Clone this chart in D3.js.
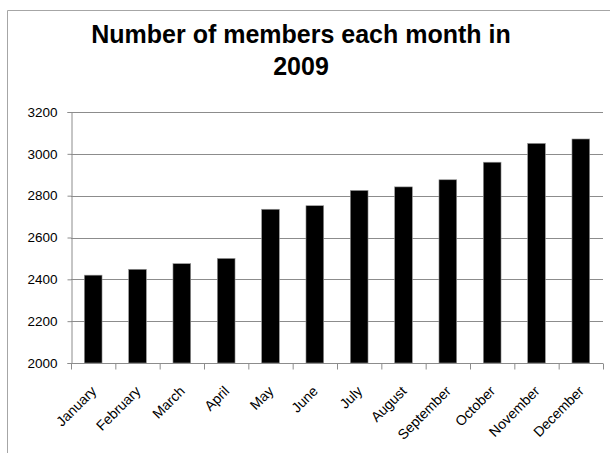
<!DOCTYPE html>
<html>
<head>
<meta charset="utf-8">
<script src="https://cdn.jsdelivr.net/npm/d3@7"></script>
<style>
  body { margin: 0; background: #fff; }
  svg { display: block; font-family: "Liberation Sans", Arial, sans-serif; }
</style>
</head>
<body>
<script>
const months = ["January", "February", "March", "April", "May", "June",
  "July", "August", "September", "October", "November", "December"];
const members = [2420, 2448, 2475, 2500, 2735, 2752, 2825, 2842, 2876, 2960, 3050, 3071];
const yTicks = [2000, 2200, 2400, 2600, 2800, 3000, 3200];
const titleLines = ["Number of members each month in", "2009"];

const width = 610;
const height = 453;
const margin = { top: 112, right: 7, bottom: 90, left: 71 };
const innerWidth = width - margin.left - margin.right;
const innerHeight = height - margin.top - margin.bottom;

const svg = d3.select("body").append("svg")
  .attr("width", width)
  .attr("height", height);

// chart area border (right and bottom edges fall outside the picture)
svg.append("path")
  .attr("d", `M7.5,${height}V10.5H${width}`)
  .attr("fill", "none")
  .attr("stroke", "#a6a6a6");

// title
svg.append("text")
  .attr("text-anchor", "middle")
  .attr("font-size", 25)
  .attr("font-weight", "bold")
  .selectAll("tspan")
  .data(titleLines)
  .join("tspan")
    .attr("x", 301)
    .attr("y", (d, i) => 43 + i * 32)
    .text(d => d);

const g = svg.append("g")
  .attr("transform", `translate(${margin.left},${margin.top})`);

const x = d3.scaleBand()
  .domain(months)
  .range([0, innerWidth])
  .paddingInner(0.6)
  .paddingOuter(0.3);

const y = d3.scaleLinear()
  .domain([2000, 3200])
  .range([innerHeight, 0]);

// gridlines
g.append("g")
  .selectAll("line")
  .data(yTicks.slice(1))
  .join("line")
    .attr("x1", 0)
    .attr("x2", innerWidth)
    .attr("y1", d => Math.round(y(d)) + 0.5)
    .attr("y2", d => Math.round(y(d)) + 0.5)
    .attr("stroke", "#8c8c8c");

// bars
g.selectAll("rect.bar")
  .data(months)
  .join("rect")
    .attr("class", "bar")
    .attr("x", d => x(d))
    .attr("y", (d, i) => y(members[i]))
    .attr("width", x.bandwidth())
    .attr("height", (d, i) => innerHeight - y(members[i]))
    .attr("fill", "#000")
    .attr("stroke", "#9a9a9a")
    .attr("stroke-width", 0.6);

// Y-axis
const yAxis = g.append("g")
  .attr("transform", "translate(0.5,0)")
  .call(d3.axisLeft(y).tickValues(yTicks).tickSize(4).tickPadding(10).tickFormat(d3.format("d")));
yAxis.select(".domain").attr("stroke", "#8c8c8c");
yAxis.selectAll(".tick line").attr("stroke", "#8c8c8c");
yAxis.selectAll(".tick text")
  .attr("font-family", "Liberation Sans, Arial, sans-serif")
  .attr("font-size", 13.5)
  .attr("fill", "#000");

// X-axis: ticks at category boundaries
const xb = d3.scaleLinear().domain([0, months.length]).range([0, innerWidth]);
const xAxis = g.append("g")
  .attr("transform", `translate(0,${Math.round(innerHeight) + 0.5})`)
  .call(d3.axisBottom(xb).tickValues(d3.range(months.length + 1)).tickSize(6).tickFormat(""));
xAxis.select(".domain").attr("stroke", "#8c8c8c").attr("d", `M0,0H${innerWidth}`);
xAxis.selectAll(".tick line").attr("stroke", "#8c8c8c");

// month labels, rotated
g.append("g")
  .selectAll("text")
  .data(months)
  .join("text")
    .attr("transform", d => `translate(${x(d) + x.bandwidth() / 2 + 4},${innerHeight + 29}) rotate(-45)`)
    .attr("text-anchor", "end")
    .attr("font-size", 14)
    .text(d => d);
</script>
</body>
</html>
